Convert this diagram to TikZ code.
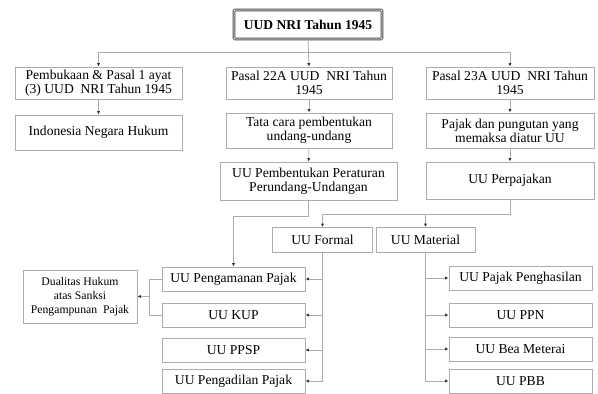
\documentclass[tikz,border=0pt]{standalone}
\usepackage{fontspec}
\setmainfont{Liberation Serif}
\usetikzlibrary{arrows.meta}
\begin{document}
\begin{tikzpicture}[x=1pt,y=-1pt,
  box/.style={draw=gray!65, line width=0.8pt, align=center, inner sep=0pt,
    font=\fontsize{13.6}{14}\selectfont},
  topbox/.style={draw=gray!60!black, line width=0.9pt, double=white, double distance=0.9pt,
    rounded corners=1pt, align=center, inner sep=0pt, font=\fontsize{13.5}{14}\selectfont\bfseries},
  conn/.style={draw=gray!65, line width=0.8pt, -{Latex[length=3.5pt,width=3.2pt,color=black!80]}},
  plain/.style={draw=gray!65, line width=0.8pt}]
\useasboundingbox[fill=white] (0,0) rectangle (598,394);
% top
\node[topbox, minimum width=148pt, minimum height=29pt] (top) at (308,24.5) {UUD NRI Tahun 1945};
% row 1
\node[box, minimum width=167pt, minimum height=32pt] (A1) at (98.5,83) {Pembukaan \& Pasal 1 ayat\\(3) UUD\ \ NRI Tahun 1945};
\node[box, minimum width=166pt, minimum height=32pt] (B1) at (309,83) {Pasal 22A UUD\ \ NRI Tahun\\1945};
\node[box, minimum width=168pt, minimum height=32pt] (C1) at (510,83) {Pasal 23A UUD\ \ NRI Tahun\\1945};
% row 2
\node[box, minimum width=167pt, minimum height=35pt] (A2) at (98.5,132.5) {Indonesia Negara Hukum};
\node[box, minimum width=166pt, minimum height=35pt] (B2) at (309,130.5) {Tata cara pembentukan\\undang-undang};
\node[box, minimum width=168pt, minimum height=35pt] (C2) at (510,130.5) {Pajak dan pungutan yang\\memaksa diatur UU};
% row 3
\node[box, minimum width=177pt, minimum height=38pt] (B3) at (308.5,181) {UU Pembentukan Peraturan\\Perundang-Undangan};
\node[box, minimum width=168pt, minimum height=37pt] (C3) at (510,180.5) {UU Perpajakan};
% formal / material
\node[box, minimum width=100pt, minimum height=25pt] (F) at (322.5,240) {UU Formal};
\node[box, minimum width=99pt, minimum height=25pt] (M) at (425.5,240) {UU Material};
% left column
\node[box, minimum width=143pt, minimum height=24pt] (L1) at (233.5,279) {UU Pengamanan Pajak};
\node[box, minimum width=143pt, minimum height=24pt] (L2) at (233.5,315) {UU KUP};
\node[box, minimum width=143pt, minimum height=24pt] (L3) at (233.5,350) {UU PPSP};
\node[box, minimum width=143pt, minimum height=24pt] (L4) at (233.5,381) {UU Pengadilan Pajak};
% right column
\node[box, minimum width=143pt, minimum height=24pt] (R1) at (520.5,278) {UU Pajak Penghasilan};
\node[box, minimum width=143pt, minimum height=24pt] (R2) at (520.5,315) {UU PPN};
\node[box, minimum width=143pt, minimum height=24pt] (R3) at (520.5,349) {UU Bea Meterai};
\node[box, minimum width=143pt, minimum height=24pt] (R4) at (520.5,381) {UU PBB};
% dualitas
\node[box, minimum width=114pt, minimum height=53pt, font=\fontsize{11.7}{14}\selectfont] (D) at (80,296.5) {Dualitas Hukum\\atas Sanksi\\Pengampunan\ \ Pajak};
% connectors
\coordinate (h) at (308,52);
\draw[conn] (top.south) -- (B1.north);
\draw[conn] (h) -| (A1.north);
\draw[conn] (h) -| (C1.north);
\draw[conn] (A1) -- (A2);
\draw[conn] (B1) -- (B2);
\draw[conn] (C1) -- (C2);
\draw[conn] (B2) -- (B3);
\draw[conn] (C2) -- (C3);
\draw[conn] (B3.south) -- ++(0,16) -| (L1.north);
\draw[conn] (C3.south) -- ++(0,15) -| (F.north);
\coordinate (jm) at (425.5,215);
\draw[conn] (jm) -- (M.north);
\foreach \n in {L1,L2,L3,L4} \draw[conn] (F.south) |- (\n.east);
\foreach \n in {R1,R2,R3,R4} \draw[conn] (M.south) |- (\n.west);
\draw[plain] (L1.west) -- ++(-12,0) |- (L2.west);
\coordinate (jd) at (150,296.5);
\draw[conn] (jd) -- (D.east);
\end{tikzpicture}
\end{document}
